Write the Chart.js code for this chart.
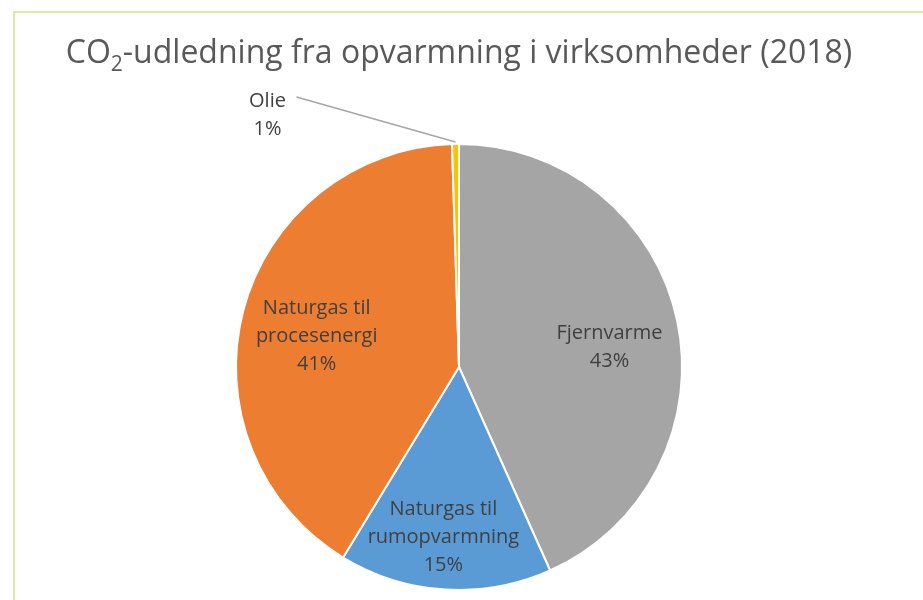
<!DOCTYPE html>
<html>
<head>
<meta charset="utf-8">
<script src="https://cdn.jsdelivr.net/npm/chart.js@4"></script>
<style>
  html, body { margin: 0; padding: 0; background: #fff; overflow: hidden; }
  #wrap { position: relative; width: 923px; height: 600px; }
  #frame { position: absolute; left: 13px; top: 11px; width: 1000px; height: 1000px;
           border: 2px solid #DDE9A3; box-sizing: border-box; pointer-events: none; }
  #title { position: absolute; left: 0; top: 35px; width: 918px; text-align: center;
           font-family: "Open Sans", sans-serif; font-size: 32px; line-height: 32px;
           color: #595959; white-space: nowrap; }
  #title sub { font-size: 21px; vertical-align: -8px; line-height: 0; }
  canvas { position: absolute; left: 0; top: 0; }
</style>
</head>
<body>
<div id="wrap">
  <canvas id="pieChart" width="923" height="600"></canvas>
  <div id="title">CO<sub>2</sub>-udledning fra opvarmning i virksomheder (2018)</div>
  <div id="frame"></div>
</div>
<script>
// data (share of CO2 emissions, %)
const categories = ['Fjernvarme', 'Naturgas til rumopvarmning', 'Naturgas til procesenergi', 'Olie'];
const shares = [43.3, 15.4, 40.8, 0.5];
// how the label text is broken into lines
const labelLines = [['Fjernvarme'], ['Naturgas til', 'rumopvarmning'], ['Naturgas til', 'procesenergi'], ['Olie']];
const sliceColors = ['#A5A5A5', '#5B9BD5', '#ED7D31', '#FFC000'];

// where labels sit, as a fraction of the radius (null = outside with leader line)
const labelRadius = [0.69, 0.76, 0.66, null];
const labelNudge = [[0, 12], [-5, 1], [0, 7], [-188, -29]];

const sliceLabels = {
    id: 'sliceLabels',
    afterDatasetsDraw(chart) {
        const ctx = chart.ctx;
        const meta = chart.getDatasetMeta(0);
        const total = shares.reduce((a, b) => a + b, 0);
        ctx.save();
        ctx.font = '20px "Open Sans", sans-serif';
        ctx.fillStyle = '#404040';
        ctx.textAlign = 'center';
        ctx.textBaseline = 'middle';
        const lineH = 28;
        meta.data.forEach((arc, i) => {
            const p = arc.getProps(['x', 'y', 'startAngle', 'endAngle', 'outerRadius'], true);
            const mid = (p.startAngle + p.endAngle) / 2;
            const lines = labelLines[i].concat([Math.round(shares[i] / total * 100) + '%']);
            let cx, cy;
            if (labelRadius[i] !== null) {
                cx = p.x + Math.cos(mid) * p.outerRadius * labelRadius[i] + labelNudge[i][0];
                cy = p.y + Math.sin(mid) * p.outerRadius * labelRadius[i] + labelNudge[i][1];
            } else {
                // outside label, connected to the slice tip
                const tx = p.x + Math.cos(mid) * p.outerRadius;
                const ty = p.y + Math.sin(mid) * p.outerRadius;
                cx = tx + labelNudge[i][0];
                cy = ty + labelNudge[i][1];
                ctx.strokeStyle = '#A6A6A6';
                ctx.lineWidth = 1.5;
                ctx.beginPath();
                ctx.moveTo(cx + 29, cy - lineH / 2 - 4);
                ctx.lineTo(tx, ty - 2);
                ctx.stroke();
            }
            const top = cy - (lines.length - 1) * lineH / 2;
            lines.forEach((t, k) => ctx.fillText(t, cx, top + k * lineH));
        });
        ctx.restore();
    }
};

new Chart(document.getElementById('pieChart').getContext('2d'), {
    type: 'pie',
    data: {
        labels: categories,
        datasets: [{
            data: shares,
            backgroundColor: sliceColors,
            borderColor: '#ffffff',
            borderWidth: 2
        }]
    },
    options: {
        responsive: false,
        animation: false,
        layout: { padding: { top: 143, bottom: 9, left: 0, right: 5 } },
        plugins: {
            legend: { display: false },
            tooltip: { enabled: false }
        }
    },
    plugins: [sliceLabels]
});
</script>
</body>
</html>
